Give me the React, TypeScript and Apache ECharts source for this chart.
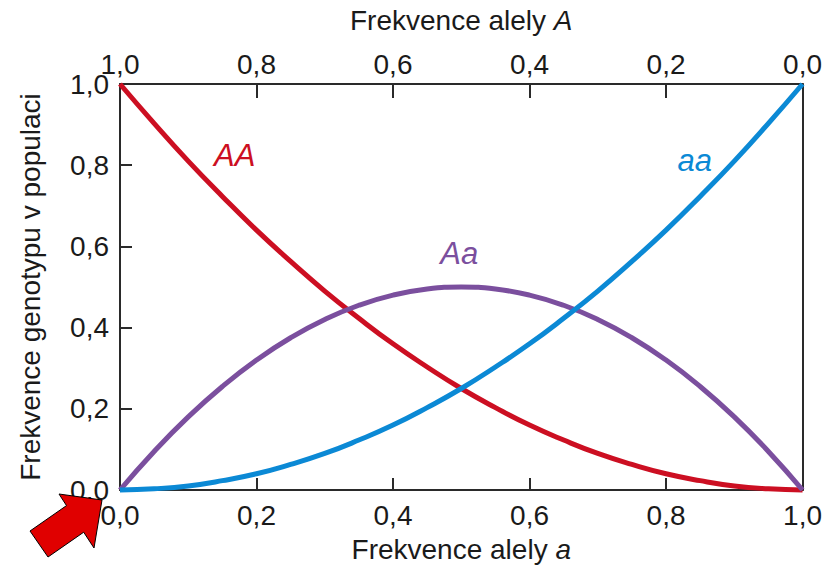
import React, { useEffect, useRef } from "react";
import * as echarts from "echarts";

const alleleA_small: number[] = [0, 0.05, 0.1, 0.15, 0.2, 0.25, 0.3, 0.35, 0.4, 0.45, 0.5, 0.55, 0.6, 0.65, 0.7, 0.75, 0.8, 0.85, 0.9, 0.95, 1.0];
const freqAA: number[] = [1.0, 0.903, 0.81, 0.723, 0.64, 0.563, 0.49, 0.423, 0.36, 0.303, 0.25, 0.203, 0.16, 0.123, 0.09, 0.063, 0.04, 0.023, 0.01, 0.003, 0.0];
const freqAa: number[] = [0.0, 0.095, 0.18, 0.255, 0.32, 0.375, 0.42, 0.455, 0.48, 0.495, 0.5, 0.495, 0.48, 0.455, 0.42, 0.375, 0.32, 0.255, 0.18, 0.095, 0.0];
const freqaa: number[] = [0.0, 0.003, 0.01, 0.023, 0.04, 0.063, 0.09, 0.123, 0.16, 0.203, 0.25, 0.303, 0.36, 0.423, 0.49, 0.563, 0.64, 0.723, 0.81, 0.903, 1.0];

const seriesNames = ["AA", "Aa", "aa"];
const labelCoords: [number, number][] = [
  [0.168, 0.823],
  [0.497, 0.582],
  [0.842, 0.812],
];

const RED = "#cc0f22";
const PURPLE = "#7b4f9e";
const BLUE = "#0b89d5";
const FONT = "Liberation Sans, Arial, sans-serif";
const TXT = "#1a1a1a";
const AXC = "#2a2a2a";
const FS = 28;

const fmt = (v: number) => v.toFixed(1).replace(".", ",");

export default function App() {
  const ref = useRef<HTMLDivElement>(null);
  useEffect(() => {
    if (!ref.current) return;
    const chart = echarts.init(ref.current, null, { renderer: "svg" });
    const colors = [RED, PURPLE, BLUE];
    const datas = [freqAA, freqAa, freqaa];
    chart.setOption({
      animation: false,
      backgroundColor: "#ffffff",
      grid: { left: 120, right: 21, top: 84, bottom: 77, containLabel: false },
      xAxis: [
        {
          type: "value",
          position: "bottom",
          min: 0,
          max: 1,
          interval: 0.2,
          name: "Frekvence alely {i|a}",
          nameLocation: "middle",
          nameGap: 45,
          nameTextStyle: {
            fontSize: FS,
            color: TXT,
            fontFamily: FONT,
            rich: { i: { fontStyle: "italic", fontSize: FS, color: TXT, fontFamily: FONT } },
          },
          axisLine: { show: true, onZero: false, lineStyle: { color: AXC, width: 2 } },
          axisTick: { show: true, inside: true, length: 12, lineStyle: { color: AXC, width: 2 } },
          axisLabel: { fontSize: FS, color: TXT, fontFamily: FONT, margin: 11, formatter: fmt },
          splitLine: { show: false },
        },
        {
          type: "value",
          position: "top",
          inverse: true,
          min: 0,
          max: 1,
          interval: 0.2,
          name: "Frekvence alely {i|A}",
          nameLocation: "middle",
          nameGap: 50,
          nameTextStyle: {
            fontSize: FS,
            color: TXT,
            fontFamily: FONT,
            rich: { i: { fontStyle: "italic", fontSize: FS, color: TXT, fontFamily: FONT } },
          },
          axisLine: { show: true, onZero: false, lineStyle: { color: AXC, width: 2 } },
          axisTick: { show: true, inside: true, length: 14, lineStyle: { color: AXC, width: 2 } },
          axisLabel: { fontSize: FS, color: TXT, fontFamily: FONT, margin: 6, formatter: fmt },
          splitLine: { show: false },
        },
      ],
      yAxis: [
        {
          type: "value",
          position: "left",
          min: 0,
          max: 1,
          interval: 0.2,
          name: "Frekvence genotypu v populaci",
          nameLocation: "middle",
          nameGap: 76,
          nameTextStyle: { fontSize: FS, color: TXT, fontFamily: FONT },
          axisLine: { show: true, onZero: false, lineStyle: { color: AXC, width: 2 } },
          axisTick: { show: true, inside: true, length: 12, lineStyle: { color: AXC, width: 2 } },
          axisLabel: { fontSize: FS, color: TXT, fontFamily: FONT, margin: 11, formatter: fmt },
          splitLine: { show: false },
        },
        {
          type: "value",
          position: "right",
          min: 0,
          max: 1,
          interval: 0.2,
          axisLine: { show: true, onZero: false, lineStyle: { color: AXC, width: 2 } },
          axisTick: { show: false },
          axisLabel: { show: false },
          splitLine: { show: false },
        },
      ],
      series: seriesNames.map((name, i) => ({
        name,
        type: "line",
        xAxisIndex: 0,
        yAxisIndex: 0,
        smooth: true,
        symbol: "none",
        clip: false,
        z: 5,
        lineStyle: { color: colors[i], width: 5 },
        data: alleleA_small.map((q, k) => [q, datas[i][k]]),
        markPoint: {
          symbol: "circle",
          symbolSize: 1,
          itemStyle: { color: "rgba(0,0,0,0)" },
          label: {
            show: true,
            position: "inside",
            formatter: name,
            fontSize: 31,
            fontStyle: "italic",
            fontFamily: FONT,
            color: colors[i],
          },
          data: [{ coord: labelCoords[i] }],
        },
      })),
      graphic: [
        {
          type: "polygon",
          z: 100,
          shape: {
            points: [
              [102, 500],
              [59, 494],
              [66.5, 505.6],
              [30, 531],
              [48, 557],
              [83.7, 532.2],
              [94, 548],
            ],
          },
          style: { fill: "#e00000", stroke: "#000000", lineWidth: 1 },
        },
      ],
    });
    return () => chart.dispose();
  }, []);
  return (
    <div
      ref={ref}
      style={{ position: "fixed", left: 0, top: 0, width: 825, height: 568 }}
    />
  );
}
